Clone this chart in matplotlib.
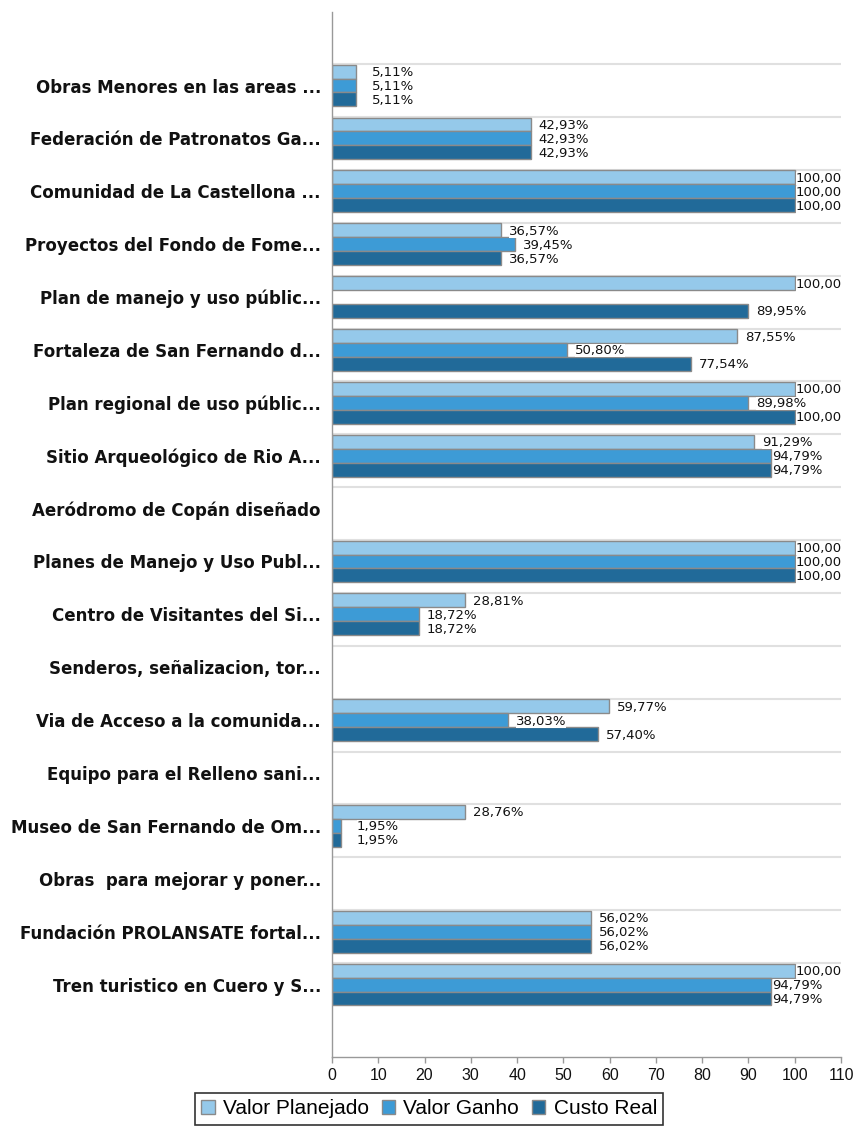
import numpy as np
import matplotlib
matplotlib.use("Agg")
import matplotlib.pyplot as plt
from matplotlib.patches import Patch
from matplotlib.transforms import offset_copy

categories = [
    "Obras Menores en las areas ...",
    "Federación de Patronatos Ga...",
    "Comunidad de La Castellona ...",
    "Proyectos del Fondo de Fome...",
    "Plan de manejo y uso públic...",
    "Fortaleza de San Fernando d...",
    "Plan regional de uso públic...",
    "Sitio Arqueológico de Rio A...",
    "Aeródromo de Copán diseñado",
    "Planes de Manejo y Uso Publ...",
    "Centro de Visitantes del Si...",
    "Senderos, señalizacion, tor...",
    "Via de Acceso a la comunida...",
    "Equipo para el Relleno sani...",
    "Museo de San Fernando de Om...",
    "Obras  para mejorar y poner...",
    "Fundación PROLANSATE fortal...",
    "Tren turistico en Cuero y S...",
]
valor_planejado = [5.11, 42.93, 100.00, 36.57, 100.00, 87.55, 100.00, 91.29, None,
                   100.00, 28.81, None, 59.77, None, 28.76, None, 56.02, 100.00]
valor_ganho = [5.11, 42.93, 100.00, 39.45, None, 50.80, 89.98, 94.79, None,
               100.00, 18.72, None, 38.03, None, 1.95, None, 56.02, 94.79]
custo_real = [5.11, 42.93, 100.00, 36.57, 89.95, 77.54, 100.00, 94.79, None,
              100.00, 18.72, None, 57.40, None, 1.95, None, 56.02, 94.79]
series_names = ["Valor Planejado", "Valor Ganho", "Custo Real"]
series_colors = ["#95c9ea", "#3d9bd6", "#216a99"]
x_ticks = [0, 10, 20, 30, 40, 50, 60, 70, 80, 90, 100, 110]

W, H = 858, 1129
fig = plt.figure(figsize=(W / 100, H / 100), dpi=100)
ax = fig.add_axes([332 / W, 1 - 1057 / H, (841 - 332) / W, (1057 - 12) / H])

n = len(categories)
y = np.arange(n)
bh = 0.263
series = [valor_planejado, valor_ganho, custo_real]

# grid lines between categories
for i in range(n):
    ax.axhline(i - 0.405, color="#e0e0e0", lw=1.5, zorder=0)

for k, (vals, col) in enumerate(zip(series, series_colors)):
    ypos = y + (k - 1) * bh
    for yi, v in zip(ypos, vals):
        if v is None:
            continue
        ax.barh(yi, v, height=bh, color=col, edgecolor="#8a8a8a", linewidth=1.0, zorder=2)
        if v >= 99.99:
            off = 1
        elif v > 92:
            off = 2
        elif v < 10:
            off = 16
        else:
            off = 8
        tr = offset_copy(ax.transData, fig=fig, x=off * 0.72, y=-1.0 * 0.72, units="points")
        ax.text(v, yi, f"{v:.2f}%".replace(".", ","), transform=tr, ha="left", va="center",
                fontsize=9.5, family="DejaVu Sans", color="#111111", zorder=3,
                bbox=dict(facecolor="white", edgecolor="none", pad=0.0), clip_on=True)

ax.set_xlim(0, 110)
ax.set_ylim(n - 1 + 1.37, -1.39)
ax.set_xticks(x_ticks)
ax.set_xticklabels([str(t) for t in x_ticks], fontsize=11.5, family="Liberation Sans", color="#111111")
ax.set_yticks(y)
ax.set_yticklabels(categories, fontsize=12, fontweight="bold", family="DejaVu Sans", color="#111111")
ax.tick_params(axis="y", length=0, pad=8)
ax.tick_params(axis="x", length=4, color="#999999", width=1, pad=4)
for s in ["top", "right"]:
    ax.spines[s].set_visible(False)
for s in ["left", "bottom"]:
    ax.spines[s].set_color("#999999")
    ax.spines[s].set_linewidth(1.0)

handles = [Patch(facecolor=c, edgecolor="#8a8a8a", linewidth=1.0, label=nm)
           for c, nm in zip(series_colors, series_names)]
leg = fig.legend(handles=handles, loc="upper center", bbox_to_anchor=(0.5, 1 - 1093 / H),
                 ncol=3, frameon=True, fancybox=False, handlelength=0.65, handleheight=0.65,
                 handletextpad=0.4, columnspacing=0.6, borderpad=0.3, borderaxespad=0,
                 prop={"family": "Liberation Sans", "size": 15})
leg.get_frame().set_edgecolor("black")
leg.get_frame().set_linewidth(1.2)

fig.savefig("out.png", dpi=100)
